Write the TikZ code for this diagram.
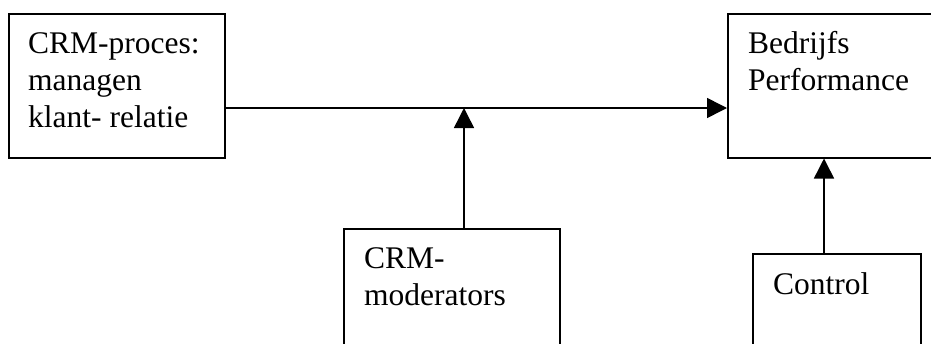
\documentclass[tikz,border=0pt]{standalone}
\usepackage{fontspec}
\setmainfont{Liberation Serif}
\usetikzlibrary{arrows.meta}
\begin{document}
\begin{tikzpicture}[x=1pt,y=-1pt,
  box/.style={draw, line width=1.5pt, inner sep=0pt, anchor=north west},
  lbl/.style={anchor=base west, inner sep=0pt, align=left, font=\fontsize{31.5}{37}\selectfont},
  arr/.style={line width=1.5pt, -{Triangle[length=20pt,width=20pt]}}]
\useasboundingbox (0,0) rectangle (931,343);
\clip (0,0) rectangle (931,343);
\node[box, minimum width=216pt, minimum height=144pt] (p) at (8,13) {};
\node[box, minimum width=240pt, minimum height=144pt] (b) at (727,13) {};
\node[box, minimum width=216pt, minimum height=180pt] (m) at (343,228) {};
\node[box, minimum width=168pt, minimum height=150pt] (c) at (752,253) {};
\node[lbl] (pt) at (28,127) {CRM-proces:\\managen\\klant- relatie};
\node[lbl] (bt) at (748,90) {Bedrijfs\\Performance};
\node[lbl] (mt) at (364,305) {CRM-\\moderators};
\node[lbl] (ct) at (773,294) {Control};
\coordinate (h) at (0,108);
\coordinate (j) at (464,108);
\coordinate (k) at (824,0);
\draw[arr] (p.east |- h) -- (b.west |- h);
\draw[arr] (m.north -| j) -- (j);
\draw[arr] (c.north -| k) -- (b.south -| k);
\end{tikzpicture}
\end{document}
